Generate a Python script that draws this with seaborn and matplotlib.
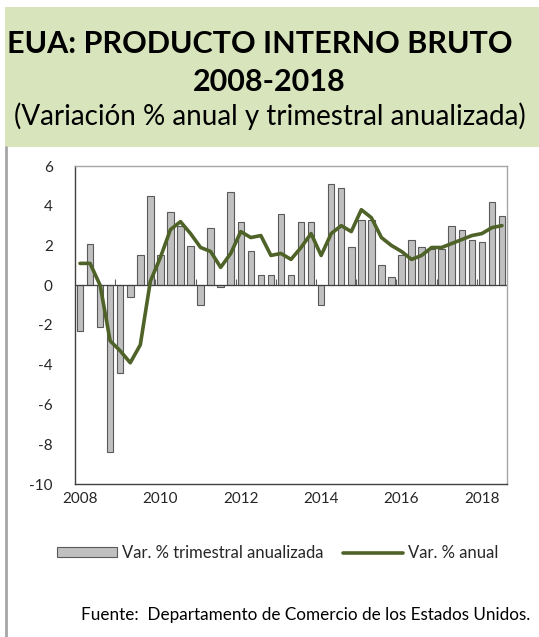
import seaborn as sns
import matplotlib.pyplot as plt
import matplotlib.patches as mpatches
import matplotlib.lines as mlines
import numpy as np
import pandas as pd

# quarterly data 2008Q1 - 2018Q3
years = list(range(2008, 2019))
quarters = [f"{y}T{q}" for y in years for q in range(1, 5)][:43]

trimestral = [-2.3, 2.1, -2.1, -8.4, -4.4, -0.6, 1.5, 4.5,
              1.5, 3.7, 3.0, 2.0, -1.0, 2.9, -0.1, 4.7,
              3.2, 1.7, 0.5, 0.5, 3.6, 0.5, 3.2, 3.2,
              -1.0, 5.1, 4.9, 1.9, 3.3, 3.3, 1.0, 0.4,
              1.5, 2.3, 1.9, 1.8, 1.8, 3.0, 2.8, 2.3,
              2.2, 4.2, 3.5]
anual = [1.1, 1.1, 0.0, -2.8, -3.3, -3.9, -3.0, 0.2,
         1.4, 2.8, 3.2, 2.6, 1.9, 1.7, 0.9, 1.6,
         2.7, 2.4, 2.5, 1.5, 1.6, 1.3, 1.9, 2.6,
         1.5, 2.6, 3.0, 2.7, 3.8, 3.4, 2.4, 2.0,
         1.7, 1.3, 1.5, 1.9, 1.9, 2.1, 2.3, 2.5,
         2.6, 2.9, 3.0]
year_labels = ["2008", "2010", "2012", "2014", "2016", "2018"]
y_ticks = [6, 4, 2, 0, -2, -4, -6, -8, -10]

df = pd.DataFrame({"trimestre": quarters, "trimestral": trimestral, "anual": anual})
df["pos"] = np.arange(len(df))

bar_color = "#c0c0c0"
line_color = "#4f6228"
green_bg = "#d8e4bc"

sns.set_style("white")
plt.rcParams["font.family"] = ["Lato", "DejaVu Sans"]

fig = plt.figure(figsize=(5.39, 6.37), dpi=100)

# title box
fig.patches.append(mpatches.Rectangle((5 / 539, 1 - 147 / 637), 534 / 539, 140 / 637,
                                      transform=fig.transFigure, facecolor=green_bg,
                                      edgecolor="none", zorder=0))
fig.lines.append(mlines.Line2D([6 / 539, 6 / 539], [0, 1 - 147 / 637],
                               transform=fig.transFigure, color="#a6a6a6", lw=2))
fig.text(260 / 539, 1 - 44 / 637, "EUA: PRODUCTO INTERNO BRUTO", ha="center", va="center",
         fontsize=22, fontweight="bold", color="black")
fig.text(0.5, 1 - 82 / 637, "2008-2018", ha="center", va="center",
         fontsize=22, fontweight="bold", color="black")
fig.text(0.5, 1 - 116 / 637, "(Variación % anual y trimestral anualizada)", ha="center",
         va="center", fontsize=20, color="black")

ax = fig.add_axes([75 / 539, 1 - 484 / 637, 432 / 539, 318 / 637])

sns.barplot(data=df, x="trimestre", y="trimestral", color=bar_color, saturation=1,
            width=0.65, edgecolor="#5a5a5a", linewidth=0.8, ax=ax, zorder=2)
sns.lineplot(data=df, x="pos", y="anual", color=line_color, linewidth=2.6, ax=ax, zorder=3)

ax.axhline(0, color="#404040", lw=0.9, zorder=2.5)
ax.set_ylim(-10, 6)
ax.set_xlim(-0.5, len(df) - 0.5)
ax.set_yticks(y_ticks)
ax.set_yticklabels([str(t) for t in y_ticks], fontsize=11, color="#262626")
ax.set_xticks(np.arange(0, len(df), 8))
ax.set_xticklabels(year_labels, fontsize=11, color="#262626")
ax.tick_params(axis="x", length=0, pad=6)
ax.tick_params(axis="y", direction="in", length=3, color="#808080", pad=16)
ax.set_xlabel("")
ax.set_ylabel("")

for s in ["left", "bottom"]:
    ax.spines[s].set_color("#404040")
    ax.spines[s].set_linewidth(1)
for s in ["top", "right"]:
    ax.spines[s].set_color("#a6a6a6")
    ax.spines[s].set_linewidth(1)

# year boundary ticks on the zero line
sec = ax.secondary_xaxis(10 / 16)
sec.set_xticks(np.arange(-0.5, len(df), 4)[1:])
sec.tick_params(axis="x", direction="out", length=4, color="#606060", labelbottom=False,
                labeltop=False)
sec.spines["bottom"].set_visible(False)
sec.spines["top"].set_visible(False)
sec.set_xticklabels([])

handles = [mpatches.Patch(facecolor=bar_color, edgecolor="#5a5a5a", linewidth=0.8,
                          label="Var. % trimestral anualizada"),
           mlines.Line2D([], [], color=line_color, lw=2.6, label="Var. % anual")]
fig.legend(handles=handles, loc="center", bbox_to_anchor=(0.515, 1 - 553 / 637), ncol=2,
           frameon=False, fontsize=12, handlelength=3.6, handleheight=0.55,
           columnspacing=1.2, handletextpad=0.3, labelcolor="#262626")

fig.text(530 / 539, 1 - 615 / 637, "Fuente:  Departamento de Comercio de los Estados Unidos.",
         ha="right", va="center", fontsize=12.3, color="black")

fig.savefig("out.png", dpi=100)
